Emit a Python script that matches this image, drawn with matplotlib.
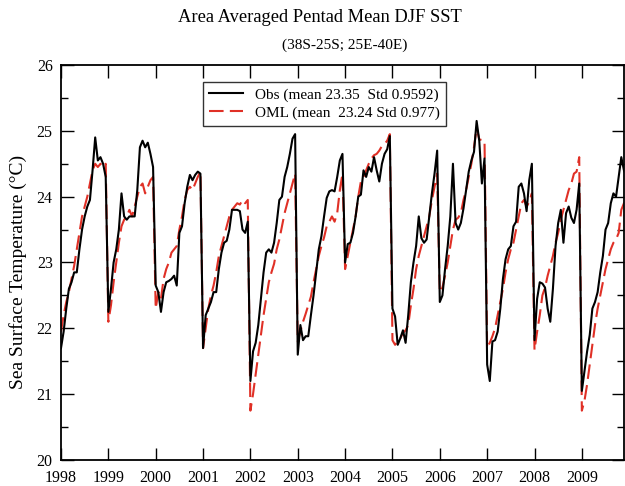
import matplotlib
matplotlib.use("Agg")
import matplotlib.pyplot as plt
import numpy as np

years = list(range(1998, 2010))
pentads_per_season = 18

obs = [
    [21.7, 21.95, 22.3, 22.6, 22.7, 22.85, 22.85, 23.2, 23.5, 23.7, 23.85, 23.95, 24.4, 24.9, 24.55, 24.6, 24.5, 24.3],
    [22.25, 22.6, 23.0, 23.2, 23.5, 24.05, 23.7, 23.65, 23.7, 23.7, 23.7, 24.1, 24.75, 24.85, 24.75, 24.82, 24.65, 24.45],
    [22.65, 22.55, 22.25, 22.55, 22.7, 22.72, 22.75, 22.8, 22.65, 23.45, 23.55, 23.9, 24.15, 24.33, 24.25, 24.33, 24.38, 24.35],
    [21.7, 22.2, 22.3, 22.4, 22.55, 22.55, 22.9, 23.15, 23.3, 23.33, 23.5, 23.8, 23.8, 23.8, 23.78, 23.5, 23.45, 23.62],
    [21.2, 21.65, 21.78, 22.05, 22.45, 22.85, 23.15, 23.2, 23.15, 23.3, 23.6, 23.95, 24.0, 24.3, 24.45, 24.65, 24.88, 24.95],
    [21.6, 22.05, 21.82, 21.88, 21.88, 22.2, 22.5, 22.85, 23.2, 23.4, 23.7, 23.98, 24.08, 24.1, 24.08, 24.3, 24.55, 24.65],
    [23.0, 23.28, 23.3, 23.45, 23.7, 24.0, 24.03, 24.4, 24.3, 24.45, 24.38, 24.6, 24.4, 24.23, 24.5, 24.65, 24.72, 24.92],
    [22.3, 22.18, 21.75, 21.85, 21.97, 21.78, 22.2, 22.7, 23.0, 23.25, 23.7, 23.37, 23.3, 23.35, 23.7, 24.05, 24.35, 24.7],
    [22.4, 22.5, 22.9, 23.25, 23.7, 24.5, 23.6, 23.5, 23.6, 23.82, 24.1, 24.38, 24.55, 24.68, 25.15, 24.85, 24.2, 24.58],
    [21.45, 21.2, 21.8, 21.82, 21.95, 22.3, 22.75, 23.05, 23.2, 23.25, 23.55, 23.62, 24.15, 24.2, 24.05, 23.78, 24.25, 24.5],
    [21.82, 22.45, 22.7, 22.68, 22.62, 22.3, 22.1, 22.6, 23.25, 23.6, 23.8, 23.3, 23.75, 23.85, 23.68, 23.6, 23.8, 24.2],
    [21.05, 21.35, 21.65, 21.9, 22.3, 22.4, 22.55, 22.85, 23.1, 23.5, 23.6, 23.9, 24.05, 24.0, 24.3, 24.6, 24.4, 24.3],
]

oml = [
    [21.95, 22.2, 22.4, 22.55, 22.75, 22.95, 23.2, 23.45, 23.7, 23.85, 24.0, 24.2, 24.4, 24.5, 24.45, 24.5, 24.45, 24.5],
    [22.1, 22.35, 22.7, 23.0, 23.3, 23.55, 23.65, 23.7, 23.8, 23.7, 23.85, 24.0, 24.15, 24.2, 24.05, 24.15, 24.25, 24.3],
    [22.3, 22.55, 22.45, 22.75, 22.9, 23.0, 23.15, 23.2, 23.25, 23.5, 23.7, 23.95, 24.1, 24.15, 24.1, 24.2, 24.3, 24.38],
    [21.7, 22.0, 22.3, 22.5, 22.65, 22.85, 23.1, 23.25, 23.4, 23.55, 23.7, 23.8, 23.85, 23.9, 23.88, 23.95, 23.9, 23.95],
    [20.75, 21.0, 21.3, 21.6, 21.9, 22.2, 22.45, 22.7, 22.85, 22.98, 23.2, 23.35, 23.55, 23.75, 23.9, 24.05, 24.2, 24.35],
    [21.8, 21.95, 22.1, 22.22, 22.35, 22.48, 22.7, 22.9, 23.1, 23.25, 23.38, 23.55, 23.62, 23.7, 23.62, 23.75, 24.1, 24.35],
    [22.9, 23.1, 23.3, 23.5, 23.7, 24.0, 24.23, 24.3, 24.4, 24.5, 24.58, 24.63, 24.65, 24.7, 24.77, 24.8, 24.85, 24.95],
    [21.82, 21.75, 21.8, 21.85, 21.93, 21.97, 22.05, 22.35, 22.6, 22.9, 23.1, 23.25, 23.4, 23.55, 23.7, 23.95, 24.15, 24.35],
    [22.55, 22.62, 22.8, 23.0, 23.25, 23.5, 23.65, 23.68, 23.75, 23.95, 24.1, 24.3, 24.5, 24.75, 25.05, 24.87, 24.86, 24.85],
    [21.7, 21.78, 21.88, 22.0, 22.2, 22.4, 22.6, 22.85, 23.05, 23.2, 23.3, 23.5, 23.7, 23.9, 23.95, 23.85, 23.92, 24.05],
    [21.67, 21.95, 22.2, 22.5, 22.62, 22.8, 22.95, 23.1, 23.3, 23.45, 23.65, 23.8, 23.95, 24.1, 24.2, 24.35, 24.38, 24.6],
    [20.75, 20.9, 21.15, 21.45, 21.75, 22.05, 22.3, 22.5, 22.7, 22.9, 23.05, 23.2, 23.3, 23.35, 23.45, 23.8, 23.9, 24.0],
]

title = "Area Averaged Pentad Mean DJF SST"
subtitle = "(38S-25S; 25E-40E)"
obs_label = "Obs (mean 23.35  Std 0.9592)"
oml_label = "OML (mean  23.24 Std 0.977)"
ylabel = "Sea Surface Temperature (\u00b0C)"

x = np.concatenate([y + np.arange(pentads_per_season) / pentads_per_season for y in years])
obs_all = np.concatenate(obs)
oml_all = np.concatenate(oml)

plt.rcParams['font.family'] = ['Liberation Serif', 'DejaVu Serif']

W, H = 625, 486
fig = plt.figure(figsize=(W / 100, H / 100), dpi=100)
ax = fig.add_axes([61 / W, 1 - 460 / H, (624 - 61) / W, (460 - 65) / H])

ax.plot(x, obs_all, color='black', lw=1.5, label=obs_label, zorder=3)
ax.plot(x, oml_all, color='#e03026', lw=1.5, dashes=(7, 3), label=oml_label, zorder=2)

ax.set_xlim(1998, 1998 + (624 - 61) / 47.35)
ax.set_ylim(20, 26)
ax.set_xticks(years)
ax.set_xticklabels([str(y) for y in years])
ax.set_yticks(range(20, 27))
ax.set_yticks(np.arange(20.5, 26, 1.0), minor=True)
ax.tick_params(axis='both', which='major', direction='in', length=9, width=1.0,
               top=True, right=True, labelsize=11.5)
ax.tick_params(axis='x', which='major', pad=7.5)
ax.tick_params(axis='y', which='major', pad=6)
ax.tick_params(axis='y', which='minor', direction='in', length=5, width=1.0, right=True)
for s in ax.spines.values():
    s.set_linewidth(1.3)

fig.text(18 / W, 1 - 272 / H, ylabel, rotation=90, ha='center', va='center', fontsize=14)

leg = ax.legend(loc='upper left', bbox_to_anchor=((203 - 61) / (624 - 61), 1 - (82 - 65) / (460 - 65)),
                fontsize=11, frameon=True, fancybox=False, edgecolor='black',
                handlelength=2.2, handletextpad=0.8, borderpad=0.4, labelspacing=0.25,
                borderaxespad=0)
leg.get_frame().set_linewidth(1.0)

fig.text(320 / W, 1 - 18 / H, title, ha='center', va='center', fontsize=13.3)
fig.text(345 / W, 1 - 45 / H, subtitle, ha='center', va='center', fontsize=11)

fig.savefig('out.png', dpi=100)
